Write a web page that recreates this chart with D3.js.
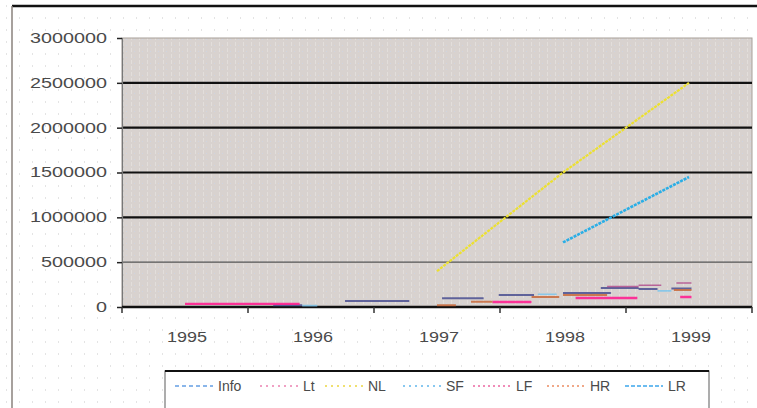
<!DOCTYPE html>
<html><head><meta charset="utf-8">
<script src="https://cdn.jsdelivr.net/npm/d3@7/dist/d3.min.js"></script>
<style>html,body{margin:0;padding:0;background:#fff;}svg{display:block;}</style>
</head><body><svg id="c" width="757" height="408"></svg>
<script>
// ---- data ----
const years = ["1995","1996","1997","1998","1999"];
const yTicks = [0,500000,1000000,1500000,2000000,2500000,3000000];
const seriesNames = ["Info","Lt","NL","SF","LF","HR","LR"];
// each series: [fractional year, value], null = gap
const info = [[1995.7,20000],[1995.93,20000],null,[1996.27,67000],[1996.78,67000],null,
  [1997.04,97000],[1997.37,97000],null,[1997.49,134000],[1997.77,134000],null,
  [1998.0,157000],[1998.38,157000],null,[1998.3,213000],[1998.6,213000],null,
  [1998.6,200000],[1998.75,200000],null,[1998.86,205000],[1999.02,205000]];
const lt = [[1998.35,228000],[1998.6,228000],null,[1998.6,242000],[1998.78,242000],null,[1998.9,268000],[1999.02,268000]];
const nl = [[1997,400000],[1998,1500000],[1999,2500000]];
const sf = [[1995.93,15000],[1996.05,15000],null,[1997.8,142000],[1997.95,142000],null,[1998.75,180000],[1998.86,180000]];
const lf = [[1995.0,35000],[1995.91,35000],null,[1997.44,56000],[1997.75,56000],null,
  [1998.1,100000],[1998.59,100000],null,[1998.93,112000],[1999.02,112000]];
const hr = [[1997.0,20000],[1997.15,20000],null,[1997.27,58000],[1997.44,58000],null,
  [1997.75,112000],[1997.97,112000],null,[1998.0,134000],[1998.35,134000],null,[1998.88,190000],[1999.02,190000]];
const lr = [[1998,720000],[1999,1450000]];
const seriesData = [info, lt, nl, sf, lf, hr, lr];

// ---- styles ----
const lineColors = ["#4a4f90","#b0488a","#ece030","#78c4ec","#ff2090","#c8683a","#2aaee6"];
const lineWidths = [2,1.6,2.2,1.6,2.4,2,2.6];
const lineOpac = [0.85,0.8,1,0.8,0.9,0.85,1];
const lineDash = [null,null,"3,1",null,null,null,"3,1"];
const legendColors = ["#8ab6ea","#f0a0c4","#f0e070","#88c8f0","#f08cb8","#f0a888","#6cbcf0"];
const legendDash = ["4,3","2,4","2,4","2,4","2,3","2,3","4,2"];
const textColor = "#4a4a4a";
const font = "Liberation Sans, Arial, sans-serif";

const svg = d3.select("#c");
const defs = svg.append("defs");
const p1 = defs.append("pattern").attr("id","dots").attr("width",13).attr("height",12).attr("patternUnits","userSpaceOnUse");
p1.append("rect").attr("width",13).attr("height",12).attr("fill","#ffffff");
p1.append("rect").attr("x",6).attr("y",5).attr("width",1).attr("height",2).attr("fill","#e4e4e4");
const p2 = defs.append("pattern").attr("id","plotTex").attr("width",8).attr("height",6).attr("patternUnits","userSpaceOnUse");
p2.append("rect").attr("width",8).attr("height",6).attr("fill","#d8d2cf");
p2.append("rect").attr("x",3).attr("y",0).attr("width",1).attr("height",4).attr("fill","#e2dedb");
p2.append("rect").attr("x",6).attr("y",3).attr("width",1).attr("height",1).attr("fill","#cfd4e0");

svg.append("rect").attr("width",757).attr("height",408).attr("fill","url(#dots)");
svg.append("line").attr("x1",12).attr("x2",757).attr("y1",6).attr("y2",6).attr("stroke","#111").attr("stroke-width",2.5);
svg.append("line").attr("x1",12).attr("x2",12).attr("y1",6).attr("y2",408).attr("stroke","#8a827c").attr("stroke-width",1.5);

const L = 122, R = 752, T = 38, B = 307;
const xBand = d3.scaleBand().domain(years).range([L,R]);
const x = d3.scaleLinear().domain([+years[0]-0.5, +years[years.length-1]+0.5]).range([L,R]);
const y = d3.scaleLinear().domain([0,3000000]).range([B,T]);

svg.append("rect").attr("x",L).attr("y",T).attr("width",R-L).attr("height",B-T).attr("fill","url(#plotTex)")
  .attr("stroke","#a8a09a").attr("stroke-width",1);

svg.append("g").selectAll("line").data(yTicks.filter(v=>v>0 && v<3000000)).join("line")
  .attr("x1",L).attr("x2",R).attr("y1",d=>y(d)).attr("y2",d=>y(d))
  .attr("stroke",d=>d===500000?"#555":"#111").attr("stroke-width",d=>d===500000?1.3:2.2);

const ya = svg.append("g").attr("transform",`translate(${L},0)`)
  .call(d3.axisLeft(y).tickValues(yTicks).tickSize(5).tickFormat(d3.format("d")));
ya.select(".domain").attr("stroke","#777").attr("stroke-width",1.2);
ya.selectAll(".tick line").attr("stroke","#222").attr("stroke-width",1.5);
ya.selectAll(".tick text").attr("x",-15).attr("fill",textColor).style("font-family",font)
  .style("font-size","14px").attr("textLength",d=>String(d).length*11).attr("lengthAdjust","spacingAndGlyphs");

const xa = svg.append("g").attr("transform",`translate(0,${B})`);
xa.append("line").attr("x1",L).attr("x2",R).attr("stroke","#111").attr("stroke-width",2.5);
const bounds = d3.range(years.length+1).map(i=>+years[0]-0.5+i);
xa.selectAll("line.t").data(bounds).join("line").attr("class","t")
  .attr("x1",d=>x(d)).attr("x2",d=>x(d)).attr("y1",0).attr("y2",6).attr("stroke","#333").attr("stroke-width",1.5);
xa.selectAll("text").data(years).join("text")
  .attr("x",d=>xBand(d)+xBand.bandwidth()/2+2).attr("y",35).attr("text-anchor","middle")
  .attr("fill",textColor).style("font-family",font).style("font-size","14px")
  .attr("textLength",40).attr("lengthAdjust","spacingAndGlyphs").text(d=>d);

const line = d3.line().defined(d=>d!==null).x(d=>x(d[0])).y(d=>y(d[1]));
svg.append("g").selectAll("path").data(seriesData).join("path")
  .attr("d",d=>line(d)).attr("fill","none")
  .attr("stroke",(d,i)=>lineColors[i]).attr("stroke-width",(d,i)=>lineWidths[i])
  .attr("stroke-opacity",(d,i)=>lineOpac[i])
  .attr("stroke-dasharray",(d,i)=>lineDash[i]);

const lg = svg.append("g");
lg.append("rect").attr("x",165).attr("y",371).attr("width",544).attr("height",50).attr("fill","#fff")
  .attr("stroke","#777").attr("stroke-width",1.2);
lg.append("line").attr("x1",165).attr("x2",709).attr("y1",371).attr("y2",371).attr("stroke","#111").attr("stroke-width",2);
const textStarts = [218,303,368,446,516,590,668];
const items = lg.selectAll("g.it").data(seriesNames).join("g").attr("class","it");
items.append("line").attr("x1",(d,i)=>textStarts[i]-43).attr("x2",(d,i)=>textStarts[i]-5)
  .attr("y1",386).attr("y2",386).attr("stroke",(d,i)=>legendColors[i]).attr("stroke-width",2)
  .attr("stroke-dasharray",(d,i)=>legendDash[i]);
items.append("text").attr("x",(d,i)=>textStarts[i]).attr("y",391).attr("fill",textColor)
  .style("font-family",font).style("font-size","14px").text(d=>d);
</script></body></html>
